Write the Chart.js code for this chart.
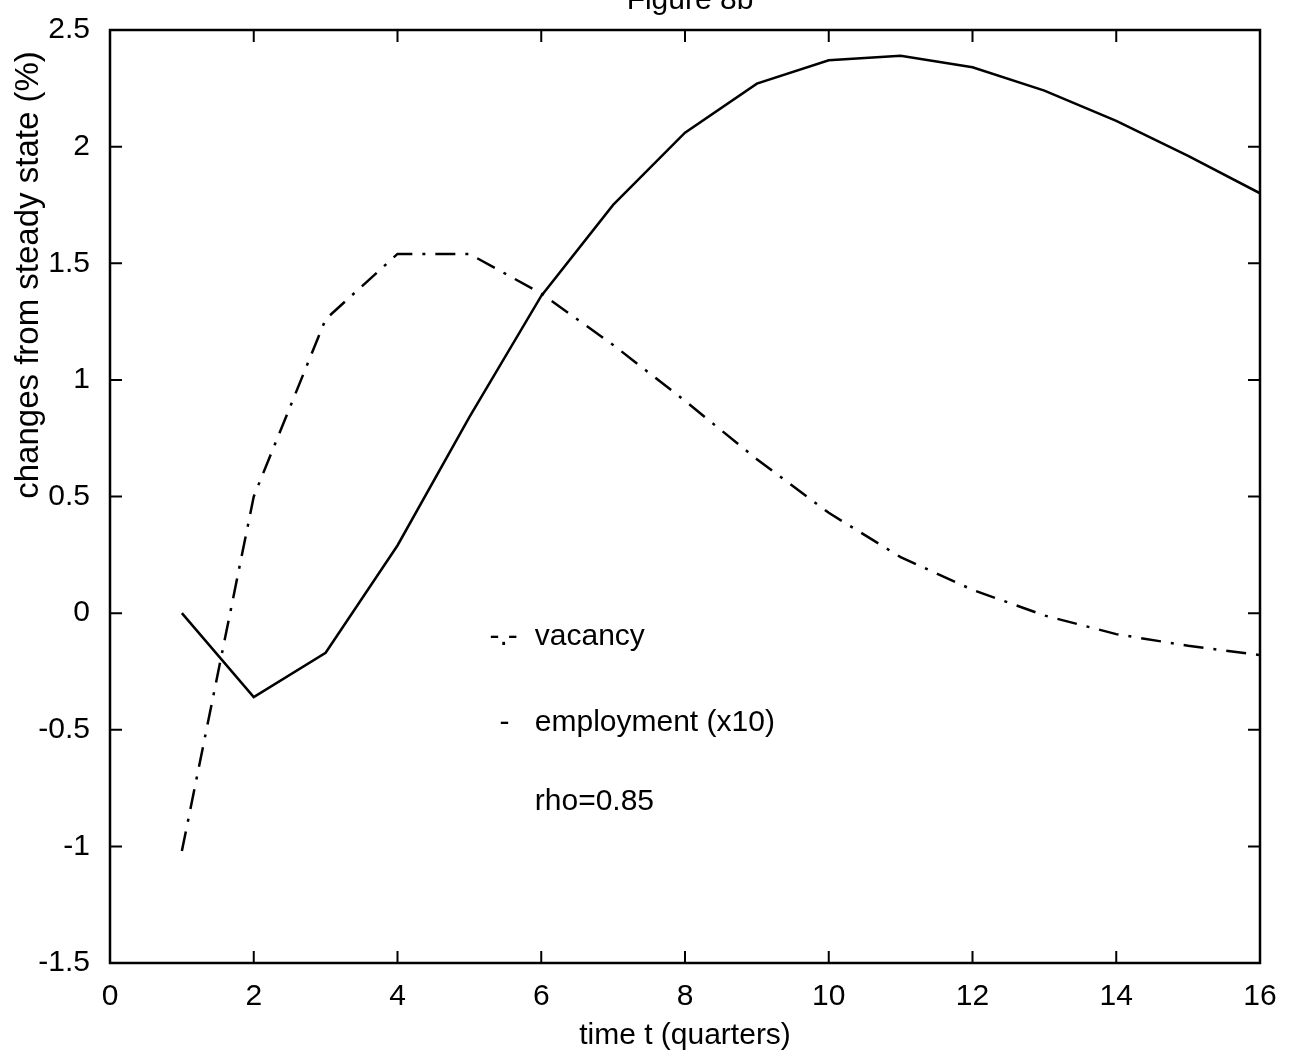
<!DOCTYPE html>
<html>
<head>
<meta charset="utf-8">
<script src="https://cdn.jsdelivr.net/npm/chart.js@4/dist/chart.umd.min.js"></script>
<style>
  html, body { margin: 0; padding: 0; background: #fff; }
  #wrap { width: 1299px; height: 1054px; position: relative; }
</style>
</head>
<body>
<div id="wrap"><canvas id="myChart"></canvas></div>
<script>
// Datos (Figure 8b)
const quarters = [1, 2, 3, 4, 5, 6, 7, 8, 9, 10, 11, 12, 13, 14, 15, 16];
const vacancy = [-1.02, 0.50, 1.26, 1.54, 1.54, 1.37, 1.15, 0.91, 0.66, 0.43, 0.24, 0.10, -0.01, -0.09, -0.14, -0.18];
const employment = [0.00, -0.36, -0.17, 0.29, 0.84, 1.36, 1.75, 2.06, 2.27, 2.37, 2.39, 2.34, 2.24, 2.11, 1.96, 1.80];
const xTicks = [0, 2, 4, 6, 8, 10, 12, 14, 16];
const yTicks = [-1.5, -1, -0.5, 0, 0.5, 1, 1.5, 2, 2.5];

const fuente = "'Liberation Sans', Arial, Helvetica, sans-serif";

// Marco y marcas hacia adentro, estilo matlab
const marcoPlugin = {
  id: "marco",
  afterDraw(chart) {
    const { ctx, chartArea: a, scales } = chart;
    const x = scales.x, y = scales.y;
    ctx.save();
    ctx.strokeStyle = "#000";
    ctx.lineWidth = 2.5;
    ctx.strokeRect(a.left, a.top, a.right - a.left, a.bottom - a.top);
    ctx.lineWidth = 2;
    const tl = 12;
    ctx.beginPath();
    xTicks.forEach(v => {
      const px = x.getPixelForValue(v);
      ctx.moveTo(px, a.bottom); ctx.lineTo(px, a.bottom - tl);
      ctx.moveTo(px, a.top); ctx.lineTo(px, a.top + tl);
    });
    yTicks.forEach(v => {
      const py = y.getPixelForValue(v);
      ctx.moveTo(a.left, py); ctx.lineTo(a.left + tl, py);
      ctx.moveTo(a.right, py); ctx.lineTo(a.right - tl, py);
    });
    ctx.stroke();

    // textos
    ctx.fillStyle = "#000";
    ctx.font = "30px " + fuente;
    ctx.textBaseline = "middle";
    ctx.textAlign = "left";
    ctx.fillText("-.-", x.getPixelForValue(5.28), y.getPixelForValue(-0.10));
    ctx.fillText("vacancy", x.getPixelForValue(5.91), y.getPixelForValue(-0.10));
    ctx.fillText("-", x.getPixelForValue(5.42), y.getPixelForValue(-0.47));
    ctx.fillText("employment (x10)", x.getPixelForValue(5.91), y.getPixelForValue(-0.47));
    ctx.fillText("rho=0.85", x.getPixelForValue(5.91), y.getPixelForValue(-0.81));

    // titulo cortado arriba
    ctx.textAlign = "center";
    ctx.textBaseline = "alphabetic";
    ctx.fillText("Figure 8b", 690, 9);

    // titulo eje y
    ctx.translate(29, 275);
    ctx.rotate(-Math.PI / 2);
    ctx.textBaseline = "middle";
    ctx.font = "33px " + fuente;
    ctx.fillText("changes from steady state (%)", 0, 0);
    ctx.restore();
  }
};

const data = {
  datasets: [
    {
      label: "vacancy",
      data: quarters.map((q, i) => ({ x: q, y: vacancy[i] })),
      borderColor: "#000",
      borderWidth: 2.5,
      borderDash: [20, 10, 3, 10],
      pointRadius: 0,
      tension: 0
    },
    {
      label: "employment (x10)",
      data: quarters.map((q, i) => ({ x: q, y: employment[i] })),
      borderColor: "#000",
      borderWidth: 2.5,
      pointRadius: 0,
      tension: 0
    }
  ]
};

const config = {
  type: "line",
  data,
  options: {
    responsive: true,
    maintainAspectRatio: false,
    animation: false,
    layout: { padding: { top: 25, right: 39, left: 0, bottom: 0 } },
    plugins: {
      legend: { display: false },
      tooltip: { enabled: false }
    },
    scales: {
      x: {
        type: "linear",
        min: 0, max: 16,
        afterBuildTicks: s => { s.ticks = xTicks.map(v => ({ value: v })); },
        afterFit: s => { s.height = 91; },
        grid: { display: false },
        border: { display: false },
        ticks: { color: "#000", padding: 8, font: { family: fuente, size: 30 }, maxRotation: 0, autoSkip: false },
        title: { display: true, text: "time t (quarters)", color: "#000", padding: { top: 3, bottom: 0 }, font: { family: fuente, size: 30 } }
      },
      y: {
        type: "linear",
        min: -1.5, max: 2.5,
        afterBuildTicks: s => { s.ticks = yTicks.map(v => ({ value: v })); },
        afterFit: s => { s.width = 110; },
        grid: { display: false },
        border: { display: false },
        ticks: { color: "#000", padding: 12, font: { family: fuente, size: 30 }, callback: v => String(v), autoSkip: false }
      }
    }
  },
  plugins: [marcoPlugin]
};

const myChart = document.getElementById("myChart");
new Chart(myChart, config);
</script>
</body>
</html>
